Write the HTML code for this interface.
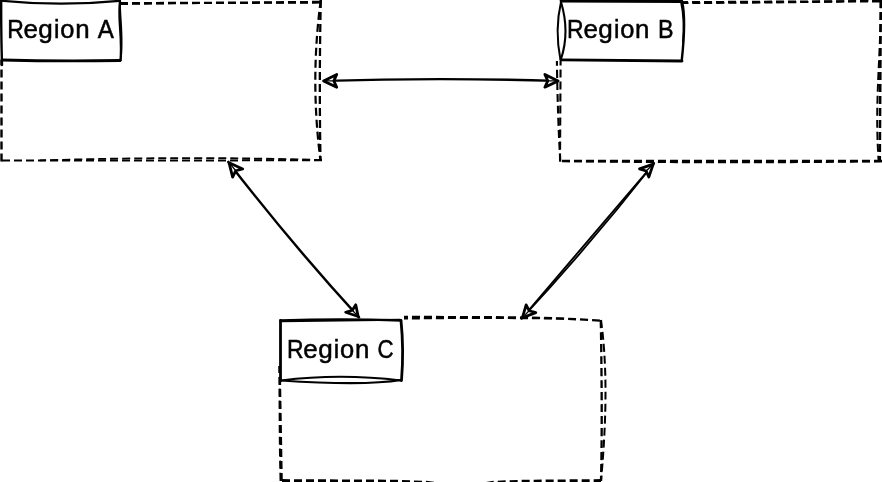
<!DOCTYPE html>
<html><head><meta charset="utf-8"><style>
html,body{margin:0;padding:0;background:#fff;width:882px;height:482px;overflow:hidden}
svg{display:block;position:absolute;left:0;top:0}
#t{opacity:0.999;will-change:transform}
text{font-family:"Liberation Sans",sans-serif;font-size:25.44px;fill:#000;stroke:#000;stroke-width:0.5px}
</style></head><body>
<svg width="882" height="482" viewBox="0 0 882 482">
<path d="M0,3.0 Q160,3.6 320.5,1.9" stroke="#000" stroke-width="2.3" fill="none" stroke-dasharray="8 4" stroke-dashoffset="0"/>
<path d="M0,5.6 L180,3.2 L320.5,2.6" stroke="#000" stroke-width="2.0" fill="none" stroke-dasharray="8 4" stroke-dashoffset="0"/>
<path d="M320.8,0 Q319,80 320.5,160.5" stroke="#000" stroke-width="2.3" fill="none" stroke-dasharray="8 4" stroke-dashoffset="0"/>
<path d="M320.8,0 Q310,80 320.5,160.5" stroke="#000" stroke-width="2.2" fill="none" stroke-dasharray="8 4" stroke-dashoffset="0"/>
<path d="M322,160.3 L0,160.6" stroke="#000" stroke-width="2.0" fill="none" stroke-dasharray="8 4" stroke-dashoffset="0"/>
<path d="M322,160.1 Q190,155.9 40,160.4" stroke="#000" stroke-width="1.8" fill="none" stroke-dasharray="8 4" stroke-dashoffset="0"/>
<path d="M1.5,161.5 L1.5,0" stroke="#000" stroke-width="2.4" fill="none" stroke-dasharray="8 4" stroke-dashoffset="0"/>
<path d="M560,3 L881,1.2" stroke="#000" stroke-width="2.4" fill="none" stroke-dasharray="8 4" stroke-dashoffset="0"/>
<path d="M560,3.2 Q780,3.4 881,0.4" stroke="#000" stroke-width="2.1" fill="none" stroke-dasharray="8 4" stroke-dashoffset="0"/>
<path d="M880.8,0 L879.8,161" stroke="#000" stroke-width="2.5" fill="none" stroke-dasharray="8 4" stroke-dashoffset="0"/>
<path d="M880.8,0 C880.8,60 874.5,100 878.6,161" stroke="#000" stroke-width="2.0" fill="none" stroke-dasharray="8 4" stroke-dashoffset="0"/>
<path d="M882,161 L560,161" stroke="#000" stroke-width="2.3" fill="none" stroke-dasharray="8 4" stroke-dashoffset="0"/>
<path d="M882,161.3 Q720,163.3 560,161" stroke="#000" stroke-width="2.1" fill="none" stroke-dasharray="8 4" stroke-dashoffset="0"/>
<path d="M560.3,161.5 Q557.6,115 556.9,61" stroke="#000" stroke-width="2.1" fill="none" stroke-dasharray="8 4" stroke-dashoffset="0"/>
<path d="M560,161.5 L560.6,61" stroke="#000" stroke-width="2.1" fill="none" stroke-dasharray="8 4" stroke-dashoffset="0"/>
<path d="M404,316.9 L510,317.3 Q560,317.8 601,320.8" stroke="#000" stroke-width="2.3" fill="none" stroke-dasharray="8 4" stroke-dashoffset="4"/>
<path d="M404,318.6 Q480,317.4 566,318.7" stroke="#000" stroke-width="2.0" fill="none" stroke-dasharray="8 4" stroke-dashoffset="4"/>
<path d="M600.8,320 Q602.5,420 601,481" stroke="#000" stroke-width="2.3" fill="none" stroke-dasharray="8 4" stroke-dashoffset="0"/>
<path d="M601,320 C606.5,360 607.5,410 601,481" stroke="#000" stroke-width="2.0" fill="none" stroke-dasharray="8 4" stroke-dashoffset="0"/>
<path d="M280,480.6 L395,481.2 L428,482.4 L440,484.2 L482,484.2 L492,482.4 L520,481.3 L601,480.6" stroke="#000" stroke-width="3.0" fill="none" stroke-dasharray="8 4" stroke-dashoffset="-2"/>
<path d="M281.5,481 L279.5,366" stroke="#000" stroke-width="2.6" fill="none" stroke-dasharray="8 4" stroke-dashoffset="0"/>
<path d="M280.5,481 Q279,420 280,366" stroke="#000" stroke-width="1.9" fill="none" stroke-dasharray="8 4" stroke-dashoffset="0"/>
<path d="M326,80.9 Q440,77.3 556,80.9" fill="none" stroke="#000" stroke-linecap="round" stroke-width="2.45"/>
<path d="M228.3,161.9 Q290.6,242.7 359,317.4" fill="none" stroke="#000" stroke-linecap="round" stroke-width="2.45"/>
<path d="M654.1,163.3 L521.6,318.6" fill="none" stroke="#000" stroke-linecap="round" stroke-width="1.9"/>
<path d="M654.1,163.3 Q591.2,243.8 521.6,318.6" fill="none" stroke="#000" stroke-linecap="round" stroke-width="1.8"/>
<path d="M323.60,80.90 L336.73,74.40 L333.84,80.86 L336.73,87.30 Z" fill="#fff" stroke="#000" stroke-width="2.8" stroke-linejoin="round"/><path d="M333.84,80.86 L326.67,80.89" stroke="#000" stroke-width="1.3"/>
<path d="M558.10,80.89 L544.87,74.39 L547.78,80.82 L544.88,87.21 Z" fill="#fff" stroke="#000" stroke-width="2.8" stroke-linejoin="round"/><path d="M547.78,80.82 L555.01,80.87" stroke="#000" stroke-width="1.3"/>
<path d="M229.07,162.82 L242.71,168.91 L235.78,170.74 L232.64,177.05 Z" fill="#fff" stroke="#000" stroke-width="2.8" stroke-linejoin="round"/><path d="M235.78,170.74 L231.09,165.19" stroke="#000" stroke-width="1.3"/>
<path d="M358.19,316.52 L345.69,312.23 L352.36,310.28 L355.76,304.82 Z" fill="#fff" stroke="#000" stroke-width="2.8" stroke-linejoin="round"/><path d="M352.36,310.28 L356.44,314.65" stroke="#000" stroke-width="1.3"/>
<path d="M653.24,164.14 L639.49,168.88 L646.15,171.02 L648.82,177.03 Z" fill="#fff" stroke="#000" stroke-width="2.8" stroke-linejoin="round"/><path d="M646.15,171.02 L651.11,166.20" stroke="#000" stroke-width="1.3"/>
<path d="M522.43,317.73 L526.14,304.85 L529.09,310.73 L535.81,312.65 Z" fill="#fff" stroke="#000" stroke-width="2.8" stroke-linejoin="round"/><path d="M529.09,310.73 L524.43,315.63" stroke="#000" stroke-width="1.3"/>
<path d="M0,0 L120,0 L120,60 L0,60 Z" fill="#fff"/>
<path d="M0,0.6 Q60,6.6 119.5,0.8" fill="none" stroke="#000" stroke-width="2.3" stroke-linecap="round"/>
<path d="M1.2,0.5 Q1,30 2,65" fill="none" stroke="#000" stroke-width="2.4" stroke-linecap="round"/>
<path d="M120,1 C117.5,20 122.5,35 120.5,60.5" fill="none" stroke="#000" stroke-width="2.2" stroke-linecap="round"/>
<path d="M120,1 C119.5,15 123.8,40 120.5,60.5" fill="none" stroke="#000" stroke-width="1.8" stroke-linecap="round"/>
<path d="M2,60 Q60,61.5 120,60.5" fill="none" stroke="#000" stroke-width="2.8" stroke-linecap="round"/>
<path d="M561,0 L682,0 L682,60 L561,60 Z" fill="#fff"/>
<path d="M561,1 L682,1.5" fill="none" stroke="#000" stroke-width="2.8" stroke-linecap="round"/>
<path d="M561,2 Q554.5,30 560.5,60" fill="none" stroke="#000" stroke-width="2.0" stroke-linecap="round"/>
<path d="M561,2 Q570,32 561,59" fill="none" stroke="#000" stroke-width="2.1" stroke-linecap="round"/>
<path d="M682,1.5 C685.5,15 684.5,35 681.8,60" fill="none" stroke="#000" stroke-width="2.4" stroke-linecap="round"/>
<path d="M681,2 Q685,20 683,42" fill="none" stroke="#000" stroke-width="1.8" stroke-linecap="round"/>
<path d="M561,59.8 Q620,60.6 682,61" fill="none" stroke="#000" stroke-width="2.8" stroke-linecap="round"/>
<path d="M280,320 L401,320 L401,380 L280,380 Z" fill="#fff"/>
<path d="M280.5,320.5 Q340,318.3 401,320.5" fill="none" stroke="#000" stroke-width="2.3" stroke-linecap="round"/>
<path d="M281,321.2 Q330,320.8 400,319.8" fill="none" stroke="#000" stroke-width="2.0" stroke-linecap="round"/>
<path d="M280.5,320.5 L280.5,381" fill="none" stroke="#000" stroke-width="2.8" stroke-linecap="round"/>
<path d="M401,320.5 Q404,350 401.5,380.5" fill="none" stroke="#000" stroke-width="2.8" stroke-linecap="round"/>
<path d="M281,380.5 Q340,373 401,380.5" fill="none" stroke="#000" stroke-width="2.2" stroke-linecap="round"/>
<path d="M281,380.5 Q365,386 401,380" fill="none" stroke="#000" stroke-width="2.2" stroke-linecap="round"/>
</svg>
<svg id="t" width="882" height="482" viewBox="0 0 882 482">
<text y="37.8"><tspan x="7.13" textLength="16.58" lengthAdjust="spacingAndGlyphs">R</tspan><tspan x="23.56" textLength="14.42" lengthAdjust="spacingAndGlyphs">e</tspan><tspan x="38.33" textLength="14.51" lengthAdjust="spacingAndGlyphs">g</tspan><tspan x="53.95" textLength="5.45" lengthAdjust="spacingAndGlyphs">i</tspan><tspan x="60.25" textLength="14.19" lengthAdjust="spacingAndGlyphs">o</tspan><tspan x="75.15" textLength="14.39" lengthAdjust="spacingAndGlyphs">n</tspan> <tspan x="97.66" textLength="16.13" lengthAdjust="spacingAndGlyphs">A</tspan></text>
<text y="37.8"><tspan x="567.11" textLength="16.58" lengthAdjust="spacingAndGlyphs">R</tspan><tspan x="583.53" textLength="14.42" lengthAdjust="spacingAndGlyphs">e</tspan><tspan x="598.30" textLength="14.51" lengthAdjust="spacingAndGlyphs">g</tspan><tspan x="613.93" textLength="5.45" lengthAdjust="spacingAndGlyphs">i</tspan><tspan x="620.23" textLength="14.19" lengthAdjust="spacingAndGlyphs">o</tspan><tspan x="635.12" textLength="14.39" lengthAdjust="spacingAndGlyphs">n</tspan> <tspan x="657.94" textLength="15.55" lengthAdjust="spacingAndGlyphs">B</tspan></text>
<text y="357.8"><tspan x="286.96" textLength="16.58" lengthAdjust="spacingAndGlyphs">R</tspan><tspan x="303.39" textLength="14.42" lengthAdjust="spacingAndGlyphs">e</tspan><tspan x="318.16" textLength="14.51" lengthAdjust="spacingAndGlyphs">g</tspan><tspan x="333.78" textLength="5.45" lengthAdjust="spacingAndGlyphs">i</tspan><tspan x="340.08" textLength="14.19" lengthAdjust="spacingAndGlyphs">o</tspan><tspan x="354.98" textLength="14.39" lengthAdjust="spacingAndGlyphs">n</tspan> <tspan x="377.57" textLength="16.09" lengthAdjust="spacingAndGlyphs">C</tspan></text>
</svg>
</body></html>
